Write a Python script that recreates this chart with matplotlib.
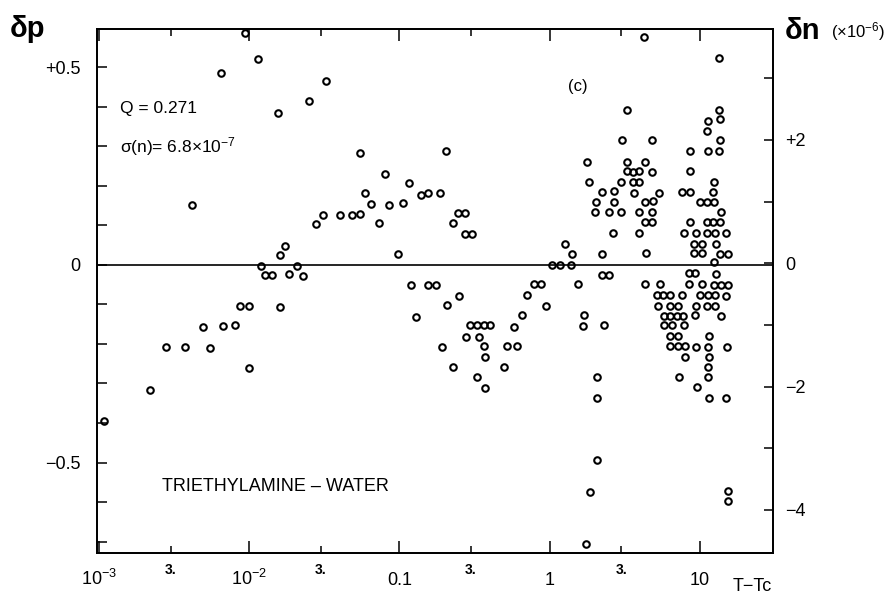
import matplotlib
matplotlib.use('Agg')
import matplotlib.pyplot as plt
from matplotlib.ticker import FixedLocator, FixedFormatter

plt.rcParams['font.family'] = ['Liberation Sans', 'DejaVu Sans']
plt.rcParams['mathtext.default'] = 'regular'

# T - Tc (K) and delta p
t_tc = [0.00107, 0.00217, 0.00277, 0.00375, 0.00415, 0.00494, 0.0055, 0.00647, 0.00665, 0.0080,
        0.00867, 0.0094, 0.00995, 0.0100, 0.0114, 0.0120, 0.0128, 0.0142, 0.0155, 0.0160,
        0.0160, 0.0172, 0.0184, 0.0209, 0.0227, 0.0249, 0.0277, 0.0308, 0.0324, 0.0402,
        0.0481, 0.0547, 0.0547, 0.0590, 0.0647, 0.0736, 0.0796, 0.0853, 0.0975, 0.106,
        0.116, 0.120, 0.129, 0.139, 0.156, 0.156, 0.174, 0.187, 0.191, 0.204,
        0.208, 0.228, 0.229, 0.247, 0.251, 0.275, 0.273, 0.277, 0.295, 0.305,
        0.329, 0.331, 0.338, 0.365, 0.365, 0.369, 0.369, 0.403, 0.494, 0.521,
        0.577, 0.607, 0.656, 0.708, 0.788, 0.874, 0.950, 1.039, 1.169, 1.263,
        1.384, 1.413, 1.556, 1.672, 1.705, 1.751, 1.786, 1.842, 1.862, 2.010,
        2.032, 2.066, 2.066, 2.066, 2.248, 2.238, 2.238, 2.297, 2.480, 2.480,
        2.649, 2.690, 2.690, 2.995, 3.009, 3.041, 3.268, 3.283, 3.268, 3.583,
        3.965, 3.583, 3.965, 3.64, 3.929, 3.929, 4.281, 4.307, 4.307, 4.307,
        4.347, 4.415, 4.818, 4.818, 4.892, 4.818, 4.818, 5.163, 5.242, 5.340,
        5.43, 5.705, 5.766, 5.766, 6.38, 6.35, 6.39, 6.50, 6.37, 6.37,
        7.07, 7.18, 7.16, 7.15, 7.27, 7.63, 7.67, 7.70, 7.81, 7.81,
        7.99, 7.99, 8.43, 8.43, 8.57, 8.60, 8.57, 8.66, 9.11, 9.14,
        9.35, 9.40, 9.25, 9.45, 9.46, 9.61, 10.09, 10.09, 10.34, 10.34,
        10.34, 11.20, 11.12, 11.24, 11.20, 11.29, 11.38, 11.20, 11.42, 11.46,
        11.38, 11.49, 11.38, 11.38, 11.46, 12.19, 12.38, 12.38, 12.28, 12.42,
        12.44, 12.72, 12.76, 12.76, 12.72, 12.66, 13.53, 13.44, 13.72, 13.72,
        13.50, 13.80, 13.72, 13.75, 13.80, 13.89, 14.99, 14.99, 15.23, 14.99,
        15.53, 15.50, 15.43, 15.43]

dp = [-0.396, -0.317, -0.208, -0.208, 0.151, -0.157, -0.209, 0.485, -0.155, -0.153,
      -0.105, 0.587, -0.105, -0.262, 0.521, -0.004, -0.025, -0.025, 0.385, 0.025,
      -0.106, 0.049, -0.024, -0.002, -0.027, 0.414, 0.104, 0.127, 0.465, 0.127,
      0.127, 0.129, 0.283, 0.181, 0.154, 0.106, 0.231, 0.152, 0.028, 0.157,
      0.207, -0.051, -0.132, 0.177, 0.182, -0.052, -0.052, 0.181, -0.208, 0.287,
      -0.101, 0.106, -0.258, 0.132, -0.078, 0.132, 0.078, -0.183, -0.153, 0.079,
      -0.153, -0.284, -0.182, -0.153, -0.206, -0.232, -0.311, -0.153, -0.259, -0.206,
      -0.157, -0.206, -0.127, -0.077, -0.049, -0.049, -0.103, 0.0, 0.0, 0.052,
      0.0, 0.028, -0.049, -0.155, -0.126, -0.706, 0.261, 0.210, -0.574, 0.133,
      0.159, -0.283, -0.337, -0.493, 0.184, 0.028, -0.025, -0.152, 0.133, -0.025,
      0.081, 0.186, 0.160, 0.210, 0.133, 0.315, 0.393, 0.261, 0.237, 0.236,
      0.238, 0.210, 0.210, 0.182, 0.133, 0.081, 0.577, 0.261, 0.160, 0.108,
      -0.048, 0.030, 0.316, 0.234, 0.161, 0.133, 0.108, -0.076, -0.103, 0.183,
      -0.049, -0.076, -0.129, -0.153, -0.076, -0.103, -0.129, -0.153, -0.180, -0.206,
      -0.129, -0.104, -0.180, -0.206, -0.283, 0.184, -0.076, -0.129, -0.152, 0.082,
      -0.206, -0.232, -0.021, -0.049, 0.184, 0.238, 0.108, 0.287, 0.029, 0.054,
      -0.021, -0.104, -0.127, 0.082, -0.208, -0.310, 0.159, -0.077, 0.054, 0.029,
      -0.049, 0.159, 0.108, 0.082, 0.339, 0.287, 0.365, -0.103, -0.077, -0.180,
      -0.207, -0.232, -0.258, -0.283, -0.337, 0.184, 0.210, 0.159, 0.108, 0.007,
      -0.051, 0.081, 0.054, -0.023, -0.077, -0.103, 0.524, 0.392, 0.369, 0.315,
      0.287, 0.133, 0.108, 0.028, -0.051, -0.129, 0.080, -0.078, -0.208, -0.337,
      0.028, -0.051, -0.572, -0.598]

x_major = [1e-3, 1e-2, 0.1, 1, 10]
x_major_labels = ['10$^{-3}$', '10$^{-2}$', '0.1', '1', '10']
x_minor = [3e-3, 3e-2, 0.3, 3]
x_minor_labels = ['3.', '3.', '3.', '3.']

dp_major = [-0.5, 0, 0.5]
dp_major_labels = ['−0.5', '0', '+0.5']
dp_minor = [-0.7, -0.6, -0.4, -0.3, -0.2, -0.1, 0.1, 0.2, 0.3, 0.4]

dn_ticks = [-4, -3, -2, -1, 0, 1, 2, 3]
dn_labels = ['−4', '', '−2', '', '0', '', '+2', '']

fig = plt.figure(figsize=(8.92, 5.94), dpi=100)
ax = fig.add_axes([0.1087, 0.069, 0.7579, 0.8822])

ax.axhline(0, color='black', lw=1.2, zorder=1)
ax.plot(t_tc, dp, 'o', mfc='none', mec='black', ms=4.7, mew=1.5, ls='none', zorder=3)

ax.set_xscale('log')
ax.set_xlim(0.000967, 30.8)
ax.set_ylim(-0.729, 0.597)

ax.xaxis.set_major_locator(FixedLocator(x_major))
ax.xaxis.set_major_formatter(FixedFormatter(x_major_labels))
ax.xaxis.set_minor_locator(FixedLocator(x_minor))
ax.xaxis.set_minor_formatter(FixedFormatter(x_minor_labels))
ax.tick_params(axis='x', which='major', direction='in', length=8.3, width=1.1,
               top=True, labelsize=13, pad=23)
ax.tick_params(axis='x', which='minor', direction='in', length=4.7, width=1.1,
               top=True, labelsize=10, pad=15)
for lab in ax.get_xticklabels():
    lab.set_va('baseline')
for lab in ax.get_xticklabels(minor=True):
    lab.set_va('baseline')
    lab.set_fontweight('bold')

ax.set_yticks(dp_major)
ax.set_yticklabels(dp_major_labels)
ax.set_yticks(dp_minor, minor=True)
ax.tick_params(axis='y', which='both', direction='in', length=7.3, width=1.1,
               labelsize=13, pad=12, right=False)

ax2 = ax.twinx()
ax2.set_ylim(-4.70, 3.80)
ax2.set_yticks(dn_ticks)
ax2.set_yticklabels(dn_labels)
ax2.tick_params(axis='y', direction='in', length=6.5, width=1.1, labelsize=13, pad=8.6)

for a in (ax, ax2):
    for s in a.spines.values():
        s.set_linewidth(1.3)

ax.text(0.034, 0.849, 'Q = 0.271', transform=ax.transAxes, fontsize=12.5, va='center')
ax.text(0.034, 0.776, 'σ(n)= 6.8×10$^{-7}$', transform=ax.transAxes, fontsize=12.5, va='center')
ax.text(0.697, 0.891, '(c)', transform=ax.transAxes, fontsize=12, va='center')
ax.text(0.096, 0.126, 'TRIETHYLAMINE – WATER', transform=ax.transAxes, fontsize=13, va='center')

fig.text(0.011, 0.938, 'δp', fontsize=21, fontweight='bold', va='baseline')
fig.text(0.880, 0.934, 'δn', fontsize=21, fontweight='bold', va='baseline')
fig.text(0.932, 0.937, '(×10$^{-6}$)', fontsize=12, va='baseline')
fig.text(0.821, 0.005, 'T−Tc', fontsize=13, va='baseline')

fig.savefig('out.png', dpi=100)
